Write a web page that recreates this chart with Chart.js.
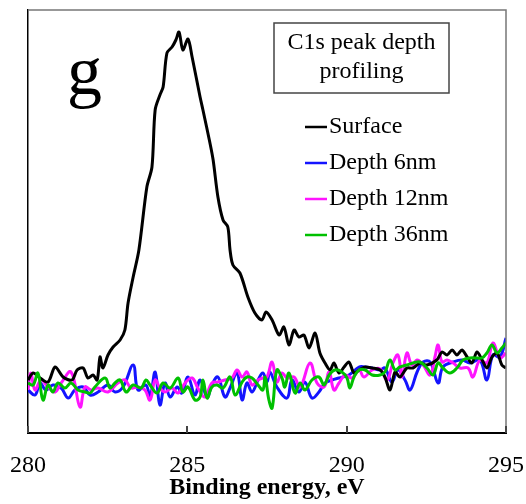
<!DOCTYPE html>
<html>
<head>
<meta charset="utf-8">
<script src="https://cdn.jsdelivr.net/npm/chart.js@4.4.1/dist/chart.umd.min.js"></script>
<style>
  html, body { margin: 0; padding: 0; background: #fff; }
  #wrap { width: 526px; height: 504px; }
</style>
</head>
<body>
<div id="wrap"><canvas id="myChart" width="526" height="504"></canvas></div>
<script>
var xTicks = [280, 285, 290, 295];

var surfaceEnergy = [280.00,280.16,280.38,280.63,280.85,281.10,281.38,281.54,281.73,281.88,282.04,282.17,282.26,282.35,282.51,282.67,282.89,283.04,283.14,283.30,283.48,283.73,283.89,283.99,284.14,284.24,284.36,284.52,284.64,284.74,284.86,285.02,285.15,285.40,285.49,285.71,285.81,285.96,286.12,286.27,286.34,286.43,286.65,286.90,287.12,287.34,287.47,287.66,287.88,288.03,288.19,288.35,288.50,288.66,288.82,289.01,289.16,289.32,289.48,289.60,289.76,289.92,290.07,290.23,290.39,290.58,290.80,291.05,291.20,291.36,291.52,291.67,291.89,292.08,292.30,292.52,292.83,292.99,293.15,293.31,293.46,293.62,293.78,293.93,294.09,294.25,294.40,294.56,294.72,294.87,295.00];
var surfaceCounts = [53,60,55,51,66,56,53,63,65,55,58,53,76,65,78,86,93,103,130,156,183,246,266,323,338,346,380,386,393,401,383,394,376,336,323,290,273,236,213,206,183,168,160,136,120,113,121,113,98,106,88,103,96,98,85,100,80,70,63,70,60,66,71,60,63,66,65,63,56,43,61,56,65,65,70,68,73,81,78,83,78,83,76,70,81,73,65,76,80,68,65];

var depth6Energy = [280.00,280.22,280.38,280.56,280.78,281.04,281.26,281.47,281.73,281.95,282.20,282.51,282.73,282.98,283.30,283.45,283.70,283.83,283.99,284.14,284.30,284.46,284.68,284.83,285.02,285.24,285.40,285.62,285.77,285.96,286.18,286.34,286.56,286.72,286.87,287.03,287.22,287.37,287.50,287.59,287.81,288.13,288.28,288.50,288.69,288.91,289.13,289.32,289.54,289.76,290.07,290.39,290.58,290.80,291.05,291.20,291.42,291.61,291.83,291.99,292.21,292.40,292.62,292.87,293.02,293.34,293.62,293.87,294.18,294.40,294.59,294.81,295.00];
var depth6Counts = [43,38,50,43,48,45,35,43,46,38,41,48,41,46,68,43,48,36,61,28,50,36,46,40,56,38,53,36,48,56,36,45,60,33,50,41,53,60,51,61,46,35,53,41,51,35,41,50,53,55,58,66,66,65,63,65,51,63,53,43,61,71,71,50,66,71,73,70,73,53,78,76,95];

var depth12Energy = [280.00,280.09,280.22,280.41,280.63,280.85,281.04,281.35,281.63,281.79,281.98,282.20,282.51,282.82,283.04,283.23,283.45,283.67,283.83,283.99,284.14,284.30,284.52,284.71,284.93,285.15,285.33,285.55,285.77,285.96,286.18,286.40,286.56,286.72,286.87,287.03,287.22,287.37,287.50,287.66,287.81,287.97,288.13,288.35,288.54,288.85,289.07,289.29,289.45,289.60,289.76,289.95,290.17,290.39,290.54,290.80,291.05,291.27,291.45,291.61,291.74,291.89,292.05,292.21,292.40,292.62,292.77,292.87,292.99,293.15,293.34,293.56,293.81,293.96,294.18,294.40,294.59,294.81,295.00];
var depth12Counts = [43,60,43,53,46,41,50,61,26,46,43,45,41,50,53,45,46,43,33,53,45,41,45,40,50,55,45,36,50,51,53,55,63,56,61,48,53,55,56,71,51,60,55,56,46,70,50,46,61,43,50,58,55,63,56,63,64,53,70,78,56,80,68,73,68,58,76,88,71,73,70,65,65,56,73,70,90,75,80];

var depth36Energy = [280.00,280.16,280.31,280.47,280.63,280.78,280.94,281.16,281.35,281.57,281.79,281.95,282.10,282.42,282.57,282.73,282.89,283.08,283.30,283.55,283.70,283.83,284.05,284.24,284.46,284.71,284.86,285.02,285.24,285.40,285.49,285.62,285.77,285.93,286.12,286.34,286.50,286.72,286.87,287.03,287.22,287.37,287.44,287.56,287.66,287.81,287.97,288.06,288.19,288.38,288.54,288.69,288.91,289.13,289.29,289.45,289.63,289.85,290.01,290.10,290.23,290.39,290.58,290.80,291.05,291.20,291.36,291.52,291.67,291.89,292.08,292.30,292.52,292.71,292.87,293.02,293.24,293.46,293.65,293.87,294.09,294.25,294.40,294.56,294.72,294.87,295.00];
var depth36Counts = [50,48,60,33,48,41,50,45,50,43,41,40,46,55,45,50,53,41,48,45,53,48,40,50,45,55,41,46,33,36,53,35,46,48,45,56,38,51,56,55,48,43,56,33,25,63,55,46,60,40,50,43,53,56,48,58,63,61,55,45,56,63,63,58,58,61,73,63,66,68,70,71,65,58,70,65,60,65,73,75,75,75,80,88,80,85,90];

var serif = '"Liberation Serif", "Times New Roman", serif';

function pts(xs, ys) {
    return xs.map(function (x, i) { return { x: x, y: ys[i] }; });
}

var decor = {
    id: 'decor',
    afterDraw: function (chart) {
        var ctx = chart.ctx;
        var a = chart.chartArea;
        var xs = chart.scales.x;
        ctx.save();

        ctx.strokeStyle = '#777';
        ctx.lineWidth = 1.5;
        ctx.beginPath();
        ctx.moveTo(a.left, a.top);
        ctx.lineTo(a.right, a.top);
        ctx.lineTo(a.right, a.bottom);
        ctx.stroke();

        ctx.strokeStyle = '#444';
        ctx.lineWidth = 2;
        xTicks.forEach(function (v) {
            var px = Math.round(xs.getPixelForValue(v));
            ctx.beginPath();
            ctx.moveTo(px, a.bottom);
            ctx.lineTo(px, a.bottom - 7);
            ctx.stroke();
        });

        ctx.fillStyle = '#000';
        ctx.font = '70px ' + serif;
        ctx.textAlign = 'left';
        ctx.textBaseline = 'alphabetic';
        ctx.fillText('g', 67, 94);

        ctx.strokeStyle = '#444';
        ctx.lineWidth = 1.5;
        ctx.strokeRect(274, 23, 175, 70);
        ctx.font = '24px ' + serif;
        ctx.textAlign = 'center';
        ctx.textBaseline = 'middle';
        ctx.fillText('C1s peak depth', 361.5, 43);
        ctx.fillText('profiling', 361.5, 72);

        ctx.textAlign = 'left';
        chart.data.datasets.forEach(function (ds, i) {
            var y = 127 + i * 36;
            ctx.strokeStyle = ds.borderColor;
            ctx.lineWidth = 2.5;
            ctx.beginPath();
            ctx.moveTo(305, y);
            ctx.lineTo(327, y);
            ctx.stroke();
            ctx.fillStyle = '#000';
            ctx.fillText(ds.label, 329, y);
        });
        ctx.restore();
    }
};

var ctx = document.getElementById('myChart').getContext('2d');
var myChart = new Chart(ctx, {
    type: 'line',
    data: {
        datasets: [{
            label: 'Surface',
            data: pts(surfaceEnergy, surfaceCounts),
            borderColor: '#000000',
            borderWidth: 3,
            tension: 0.3,
            order: 1
        }, {
            label: 'Depth 6nm',
            data: pts(depth6Energy, depth6Counts),
            borderColor: '#1414ff',
            borderWidth: 3,
            tension: 0.4,
            order: 3
        }, {
            label: 'Depth 12nm',
            data: pts(depth12Energy, depth12Counts),
            borderColor: '#ff14ff',
            borderWidth: 3,
            tension: 0.4,
            order: 2
        }, {
            label: 'Depth 36nm',
            data: pts(depth36Energy, depth36Counts),
            borderColor: '#00c000',
            borderWidth: 3,
            tension: 0.4,
            order: 0
        }]
    },
    options: {
        responsive: false,
        animation: false,
        events: [],
        layout: { padding: { top: 10, right: 20, left: 0, bottom: 0 } },
        elements: { point: { radius: 0 } },
        plugins: { legend: { display: false }, tooltip: { enabled: false } },
        scales: {
            x: {
                type: 'linear',
                min: 280,
                max: 295,
                afterBuildTicks: function (scale) {
                    scale.ticks = xTicks.map(function (v) { return { value: v }; });
                },
                afterFit: function (scale) {
                    scale.height = 71;
                    scale.paddingLeft = 0;
                    scale.paddingRight = 0;
                },
                grid: { display: false, drawTicks: false },
                border: { display: true, color: '#000', width: 2 },
                ticks: {
                    color: '#000',
                    padding: 18,
                    maxRotation: 0,
                    font: { family: serif, size: 24 }
                },
                title: {
                    display: true,
                    text: 'Binding energy, eV',
                    color: '#000',
                    padding: { top: 0, bottom: 2 },
                    font: { family: serif, size: 24, weight: 'bold' }
                }
            },
            y: {
                min: 0,
                max: 423,
                afterFit: function (scale) {
                    scale.width = 28;
                    scale.paddingTop = 0;
                    scale.paddingBottom = 0;
                },
                grid: { display: false, drawTicks: false },
                border: { display: true, color: '#000', width: 1.5 },
                ticks: { display: false }
            }
        }
    },
    plugins: [decor]
});
</script>
</body>
</html>
